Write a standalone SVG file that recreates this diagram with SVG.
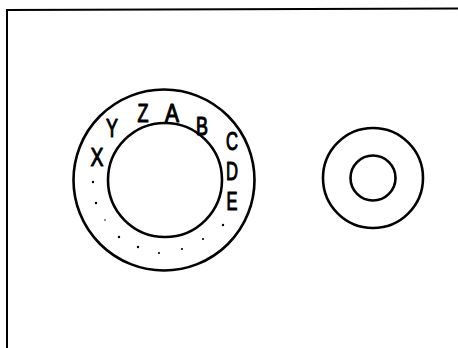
<svg xmlns="http://www.w3.org/2000/svg" width="458" height="348" viewBox="0 0 458 348">
<style>
.ring{fill:none;stroke:#000;stroke-width:2.6}
.frame{fill:none;stroke:#000;stroke-width:2}
.lbl{font-family:"Liberation Sans",Arial,sans-serif;font-size:25px;fill:#000;stroke:#000;stroke-width:1.1;stroke-linejoin:round;text-anchor:middle}
.dot{fill:#000}
</style>
<rect width="458" height="348" fill="#fff"/>
<path class="frame" d="M7,348 L7,10 L458,8.5"/>
<g id="dial">
<circle class="ring" cx="164" cy="180" r="90.5"/>
<circle class="ring" cx="165" cy="180" r="57"/>
<text class="lbl" x="97" y="166" textLength="13" lengthAdjust="spacingAndGlyphs">X</text>
<text class="lbl" x="112" y="137" textLength="12" lengthAdjust="spacingAndGlyphs">Y</text>
<text class="lbl" x="143" y="122" textLength="11" lengthAdjust="spacingAndGlyphs">Z</text>
<text class="lbl" x="172" y="122" textLength="14" lengthAdjust="spacingAndGlyphs">A</text>
<text class="lbl" x="202" y="135" textLength="12" lengthAdjust="spacingAndGlyphs">B</text>
<text class="lbl" x="232" y="150" textLength="12" lengthAdjust="spacingAndGlyphs">C</text>
<text class="lbl" x="232" y="180" textLength="12" lengthAdjust="spacingAndGlyphs">D</text>
<text class="lbl" x="232" y="210" textLength="11" lengthAdjust="spacingAndGlyphs">E</text>
<circle class="dot" cx="93" cy="182" r="1.2"/>
<circle class="dot" cx="96" cy="203" r="1.2"/>
<circle class="dot" cx="105" cy="220" r="0.8"/>
<circle class="dot" cx="119" cy="237" r="1.2"/>
<circle class="dot" cx="138" cy="247" r="1.2"/>
<circle class="dot" cx="159" cy="253" r="1.1"/>
<circle class="dot" cx="182" cy="249" r="1.1"/>
<circle class="dot" cx="203" cy="239" r="1.1"/>
<circle class="dot" cx="223" cy="225" r="1.2"/>
</g>
<g id="knob">
<circle class="ring" cx="373" cy="178" r="50"/>
<circle class="ring" cx="373" cy="178" r="22.5"/>
</g>
<g id="connectors"></g>
</svg>
